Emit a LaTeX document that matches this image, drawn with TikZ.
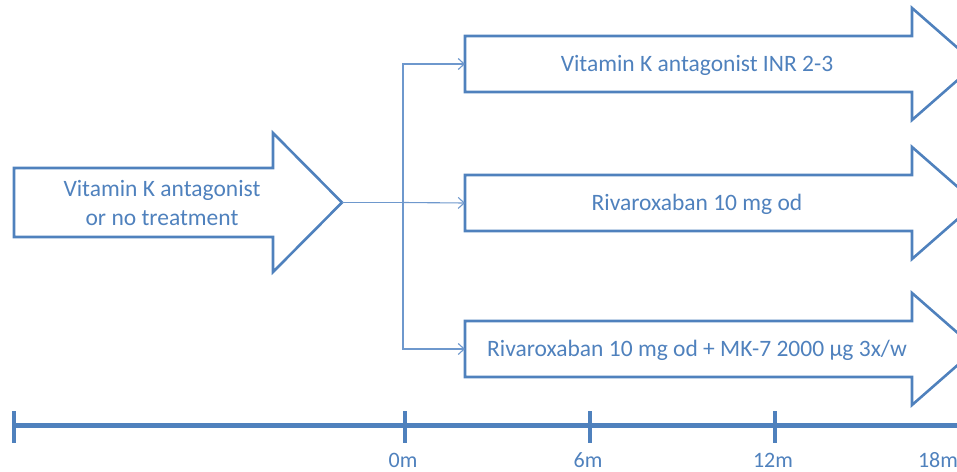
\documentclass[tikz,border=0pt]{standalone}
\usepackage{fontspec}
\setmainfont{Carlito}
\usetikzlibrary{arrows.meta}
\definecolor{office}{RGB}{79,129,189}
\definecolor{officelight}{RGB}{110,152,205}

\begin{document}
\begin{tikzpicture}[x=1pt, y=-1pt,
  outline/.style={office, line width=2.6pt, line join=miter},
  link/.style={officelight, line width=1.1pt},
  linkarrow/.style={link, -{Straight Barb[length=6pt,width=11pt]}},
  label/.style={text=office, font=\fontsize{23.5}{28.5}\selectfont, align=center},
  timeaxis/.style={office, line width=5pt},
  tick/.style={office, line width=3.5pt},
  ticklabel/.style={text=office, inner sep=0pt, font=\fontsize{22}{24}\selectfont}]

\useasboundingbox (0,0) rectangle (957,471);
\clip (0,0) rectangle (957,471);

% run-in arrow
\draw[outline] (14,168) -- (273,168) -- (273,133) -- (342,202.5) -- (273,272)
  -- (273,237) -- (14,237) -- cycle;
\coordinate (vka-tip) at (342,202.5);
\node[label] (vka) at (162,203) {Vitamin K antagonist\\or no treatment};

% randomised arms
\foreach \name/\yc/\txt in {inr/64/{Vitamin K antagonist INR 2-3},
                            riva/203/{Rivaroxaban 10 mg od},
                            rivamk/349/{Rivaroxaban 10 mg od + MK-7 2000 µg 3x/w}} {
  \draw[outline] (465,{\yc-28}) -- (912,{\yc-28}) -- (912,{\yc-56}) -- (976,\yc)
    -- (912,{\yc+56}) -- (912,{\yc+28}) -- (465,{\yc+28}) -- cycle;
  \coordinate (\name-tail) at (465,\yc);
  \node[label] (\name) at (697,{\yc+1}) {\txt};
}

\coordinate (split) at (403,202.5);
\draw[link] (vka-tip) -- (split);
\draw[linkarrow] (split) |- (inr-tail);
\draw[linkarrow] (split) -- (riva-tail);
\draw[linkarrow] (split) |- (rivamk-tail);

% time line
\coordinate (t-start) at (14,425);
\coordinate (t-end) at (960,425);
\draw[timeaxis] (t-start) -- (t-end);
\draw[tick] (14,411) -- (14,443);
\foreach \x/\lab in {405/0m, 590/6m, 775/12m} {
  \draw[tick] (\x,411) -- (\x,443);
  \node[ticklabel] (m\lab) at ({\x-2},460) {\lab};
}
\draw[tick] (959,411) -- (959,443);
\node[ticklabel] (m18m) at (938,460) {18m};

\end{tikzpicture}
\end{document}
